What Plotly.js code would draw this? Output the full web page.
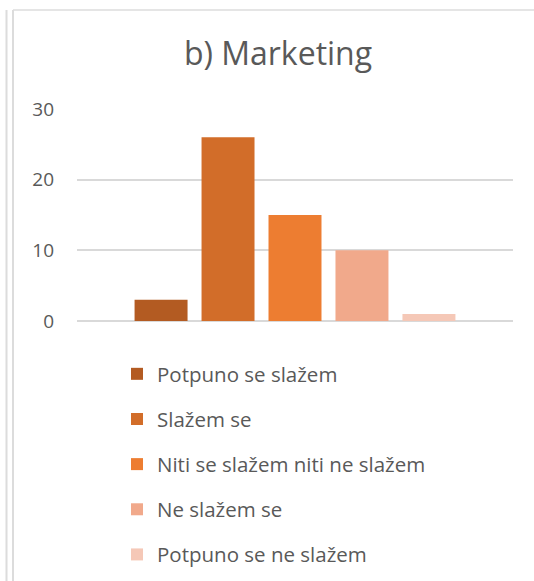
<!DOCTYPE html>
<html>
<head>
<meta charset="utf-8">
<script src="https://cdn.plot.ly/plotly-3.0.1.min.js"></script>
<style>html,body{margin:0;padding:0;background:#fff;}#chart{width:534px;height:581px;}</style>
</head>
<body>
<div id="chart"></div>
<script>
var chartTitle = 'b) Marketing';
var groupLabel = ['Marketing'];
var seriesNames = ['Potpuno se slažem', 'Slažem se', 'Niti se slažem niti ne slažem', 'Ne slažem se', 'Potpuno se ne slažem'];
var seriesValues = [3, 26, 15, 10, 1];
var seriesColors = ['#B35B22', '#D26D29', '#ED7D31', '#F1A98B', '#F5C8B7'];
var yTicks = [0, 10, 20, 30];

var FONT = 'Open Sans, Noto Sans, sans-serif';
var traces = seriesNames.map(function (name, i) {
  return {
    type: 'bar',
    name: name,
    x: groupLabel,
    y: [seriesValues[i]],
    marker: {color: seriesColors[i], line: {width: 0}},
    legendgroup: 'g' + i,
    hoverinfo: 'name+y'
  };
});

var W = 534, H = 581, L = 77, R = 21, T = 109, B = 260;
function px(x) { return (x - L) / (W - L - R); }
function py(y) { return (H - B - y) / (H - T - B); }

var layout = {
  width: W, height: H,
  margin: {l: L, r: R, t: T, b: B, pad: 0, autoexpand: false},
  paper_bgcolor: '#ffffff',
  plot_bgcolor: '#ffffff',
  barmode: 'group',
  bargap: 0.232,
  bargroupgap: 0.209,
  title: {
    text: chartTitle,
    font: {family: FONT, size: 32, color: '#595959'},
    x: 278 / W, xref: 'container', xanchor: 'center',
    y: 1 - 54 / H, yref: 'container', yanchor: 'middle',
    automargin: false
  },
  xaxis: {
    type: 'category',
    range: [-0.5, 0.5],
    showticklabels: false, showgrid: false, zeroline: false, showline: false, ticks: '',
    automargin: false
  },
  yaxis: {
    range: [0, 30],
    tickvals: yTicks,
    ticktext: yTicks.map(String),
    showgrid: true, gridcolor: '#d9d9d9', gridwidth: 2,
    zeroline: true, zerolinecolor: '#d9d9d9', zerolinewidth: 2,
    showline: false, ticks: '',
    ticklabelstandoff: 22,
    automargin: false,
    tickfont: {family: FONT, size: 19, color: '#595959'}
  },
  showlegend: true,
  legend: {
    orientation: 'v',
    x: 117 / W, xref: 'container', xanchor: 'left',
    y: 1 - 354 / H, yref: 'container', yanchor: 'top',
    font: {family: FONT, size: 20.5, color: '#595959'},
    tracegroupgap: 15.5,
    traceorder: 'grouped',
    bgcolor: 'rgba(0,0,0,0)'
  },
  shapes: [
    {type: 'line', xref: 'paper', yref: 'paper', x0: px(6.5), x1: px(6.5), y0: py(10), y1: py(H + 2), line: {color: '#dcdcdc', width: 2}},
    {type: 'line', xref: 'paper', yref: 'paper', x0: px(13), x1: px(13), y0: py(10), y1: py(H + 2), line: {color: '#dcdcdc', width: 2}},
    {type: 'line', xref: 'paper', yref: 'paper', x0: px(13), x1: px(W + 2), y0: py(10), y1: py(10), line: {color: '#dcdcdc', width: 1.5}}
  ]
};

Plotly.newPlot('chart', traces, layout, {displayModeBar: false, staticPlot: true});
</script>
</body>
</html>
